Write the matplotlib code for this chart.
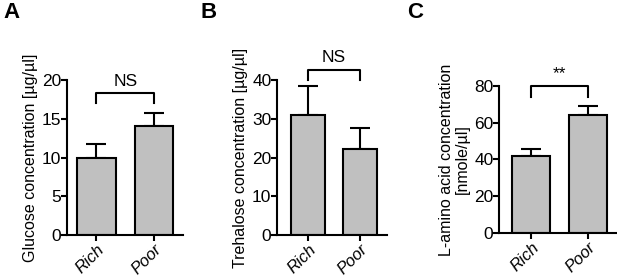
import numpy as np
import matplotlib.pyplot as plt

plt.rcParams['font.family'] = ['Liberation Sans', 'DejaVu Sans']

groups = ['Rich', 'Poor']

glucose = [10.0, 14.1]
glucose_err = [1.8, 1.6]
trehalose = [31.0, 22.3]
trehalose_err = [7.4, 5.2]
amino = [42.0, 64.2]
amino_err = [3.7, 5.1]

panels = [
    # letter, letter x, values, errors, ylabel, ymax, step, sig, bracket y, leg y, axes rect, xlim
    ('A', 0.005, glucose, glucose_err, 'Glucose concentration [µg/µl]', 20, 5, 'NS',
     18.3, 17.0, [0.1086, 0.1547, 0.188, 0.5575], (-0.51, 1.5)),
    ('B', 0.325, trehalose, trehalose_err, 'Trehalose concentration [µg/µl]', 40, 10, 'NS',
     42.6, 40.0, [0.449, 0.1547, 0.178, 0.5575], (-0.6, 1.52)),
    ('C', 0.66, amino, amino_err, 'L-amino acid concentration\n[nmole/µl]', 80, 20, '**',
     80.0, 74.0, [0.8087, 0.162, 0.19, 0.529], (-0.57, 1.5)),
]

fig = plt.figure(figsize=(6.17, 2.78), dpi=100)

for letter, lx, vals, errs, ylab, ymax, step, sig, by, ly, rect, xl in panels:
    ax = fig.add_axes(rect)
    x = np.arange(len(groups))
    ax.bar(x, vals, width=0.67, color='#c0c0c0', edgecolor='black', linewidth=1.5, zorder=2)
    ax.errorbar(x, vals, yerr=[np.zeros(len(errs)), errs], fmt='none', ecolor='black',
                elinewidth=1.5, capsize=7, capthick=1.5, zorder=1)
    ax.set_ylim(0, ymax)
    ax.set_xlim(*xl)
    ax.set_yticks(np.arange(0, ymax + 1, step))
    ax.set_xticks(x)
    ax.set_xticklabels(groups, rotation=45, ha='right', rotation_mode='anchor',
                       fontstyle='italic', fontsize=12)
    ax.tick_params(axis='y', labelsize=12.5, width=1.5, length=4, pad=0)
    ax.tick_params(axis='x', width=1.5, length=4, pad=1)
    for s in ['top', 'right']:
        ax.spines[s].set_visible(False)
    for s in ['left', 'bottom']:
        ax.spines[s].set_linewidth(1.5)
    ax.set_ylabel(ylab, fontsize=11.5, labelpad=3, linespacing=1.05)
    # significance bracket
    ax.plot([0, 0, 1, 1], [ly, by, by, ly], color='black', lw=1.5, clip_on=False)
    ax.text(0.5, by + ymax * 0.03, sig, ha='center', va='bottom', fontsize=12.5, clip_on=False)
    fig.text(lx, 0.955, letter, fontsize=16, fontweight='bold', ha='left', va='center')

fig.savefig('out.png', dpi=100)
